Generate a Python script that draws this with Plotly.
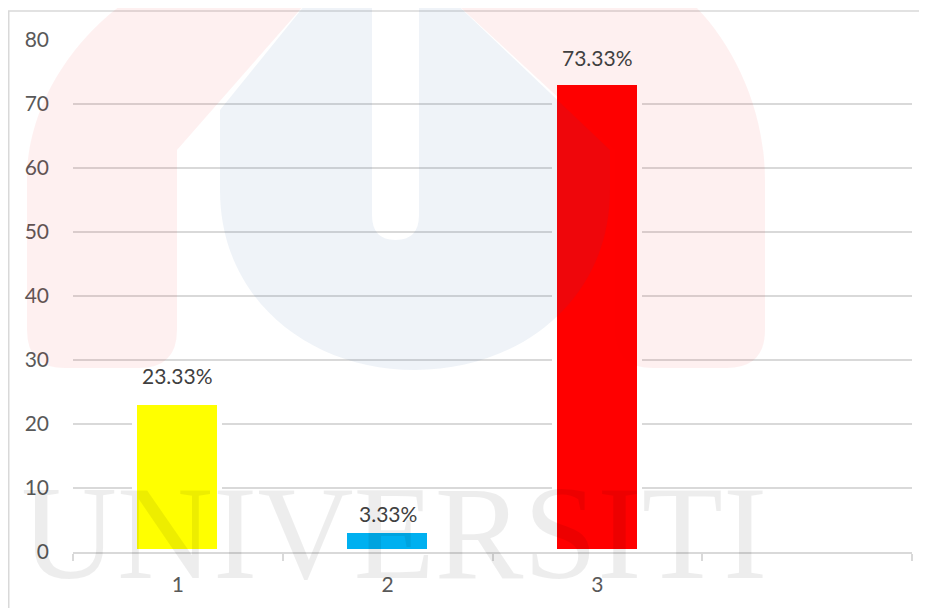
import plotly.graph_objects as go

# ---- data ----
categories = ["1", "2", "3"]
positions = [1, 2, 3]
values = [23.33, 3.33, 73.33]
labels = [f"{v:.2f}%" for v in values]
bar_colors = ["#FFFF00", "#00B0F0", "#FF0000"]
y_ticks = [0, 10, 20, 30, 40, 50, 60, 70, 80]

# ---- geometry (page pixels; the page body adds an 8px offset) ----
PAGE_W, PAGE_H, OFF = 927, 608, 8
W, H = PAGE_W - OFF, PAGE_H - OFF
L, R, T, B = 73, 912, 40, 552   # plot area in page pixels


def px(x):
    return (x - L) / (R - L)


def py(y):
    return (B - y) / (B - T)


def path(cmds):
    out = []
    for c in cmds:
        if isinstance(c, str):
            out.append(c)
        else:
            out.append(f"{px(c[0]):.5f},{py(c[1]):.5f}")
    return " ".join(out)


fig = go.Figure()
fig.add_trace(go.Bar(
    x=positions, y=values,
    marker=dict(color=bar_colors, line=dict(color="white", width=5)),
    width=0.405,
    hoverinfo="skip",
))

# data labels
label_shift = [27, 17, 25]
for xv, yv, t, s in zip(positions, values, labels, label_shift):
    fig.add_annotation(x=xv, y=yv, text=t, showarrow=False, yanchor="middle",
                       yshift=s, font=dict(family="Lato", size=21, color="#404040"))

# ---- watermark ----
red = "rgba(230,0,0,0.06)"
blue = "rgba(30,90,150,0.07)"
left_leg = path(["M", (27, 330), "L", (27, 180), "C", (27, 100), (80, 30), (136, -5), "L", (313, -5),
                 "L", (177, 150), "L", (177, 330), "Q", (177, 368), (139, 368), "L", (65, 368),
                 "Q", (27, 368), (27, 330), "Z"])
right_leg = path(["M", (765, 330), "L", (765, 180), "C", (765, 100), (725, 30), (683, -5), "L", (447, -5),
                  "L", (615, 150), "L", (615, 330), "Q", (615, 368), (653, 368), "L", (727, 368),
                  "Q", (765, 368), (765, 330), "Z"])
u_shape = path(["M", (220, 110), "L", (313, -5), "L", (372, -5), "L", (372, 215),
                "Q", (372, 240), (395.5, 240), "Q", (419, 240), (419, 215), "L", (419, -5),
                "L", (447, -5), "L", (610, 150), "L", (610, 190),
                "C", (610, 300), (520, 370), (415, 370), "C", (310, 370), (220, 300), (220, 190), "Z"])
for p, c in [(left_leg, red), (right_leg, red), (u_shape, blue)]:
    fig.add_shape(type="path", path=p, xref="paper", yref="paper", fillcolor=c,
                  line=dict(width=0), layer="above")

fig.add_annotation(x=px(394), y=py(533), xref="paper", yref="paper", text="UNIVERSITI",
                   showarrow=False, xanchor="center", yanchor="middle",
                   font=dict(family="Liberation Serif", size=133, color="rgba(0,0,0,0.07)"))

# chart border
fig.add_shape(type="rect", xref="paper", yref="paper", x0=px(8.75), y0=py(11), x1=px(940), y1=py(630),
              line=dict(color="#D9D9D9", width=1.5), layer="below")

fig.update_layout(
    width=W, height=H,
    margin=dict(l=L - OFF, r=PAGE_W - R, t=T - OFF, b=PAGE_H - B, autoexpand=False),
    paper_bgcolor="white", plot_bgcolor="white",
    showlegend=False,
    font=dict(family="Lato", size=21, color="#595959"),
    bargap=0,
)
fig.update_xaxes(
    range=[0.5, 4.5], tickmode="array", tickvals=positions, ticktext=categories,
    ticks="", showgrid=False, zeroline=False,
    showline=True, linecolor="#D9D9D9", linewidth=1.5,
    ticklabelstandoff=13, automargin=False,
    minor=dict(tickmode="array", tickvals=[0.5, 1.5, 2.5, 3.5, 4.5], ticks="outside",
               ticklen=7, tickwidth=1.5, tickcolor="#D9D9D9", showgrid=False),
    fixedrange=True,
)
fig.update_yaxes(
    range=[0, 80], tickmode="array", tickvals=y_ticks, ticks="",
    showgrid=True, gridcolor="#D9D9D9", gridwidth=1.5,
    zeroline=False, showline=False, ticklabelstandoff=23, automargin=False,
    fixedrange=True,
)

fig.write_html("out.html")
